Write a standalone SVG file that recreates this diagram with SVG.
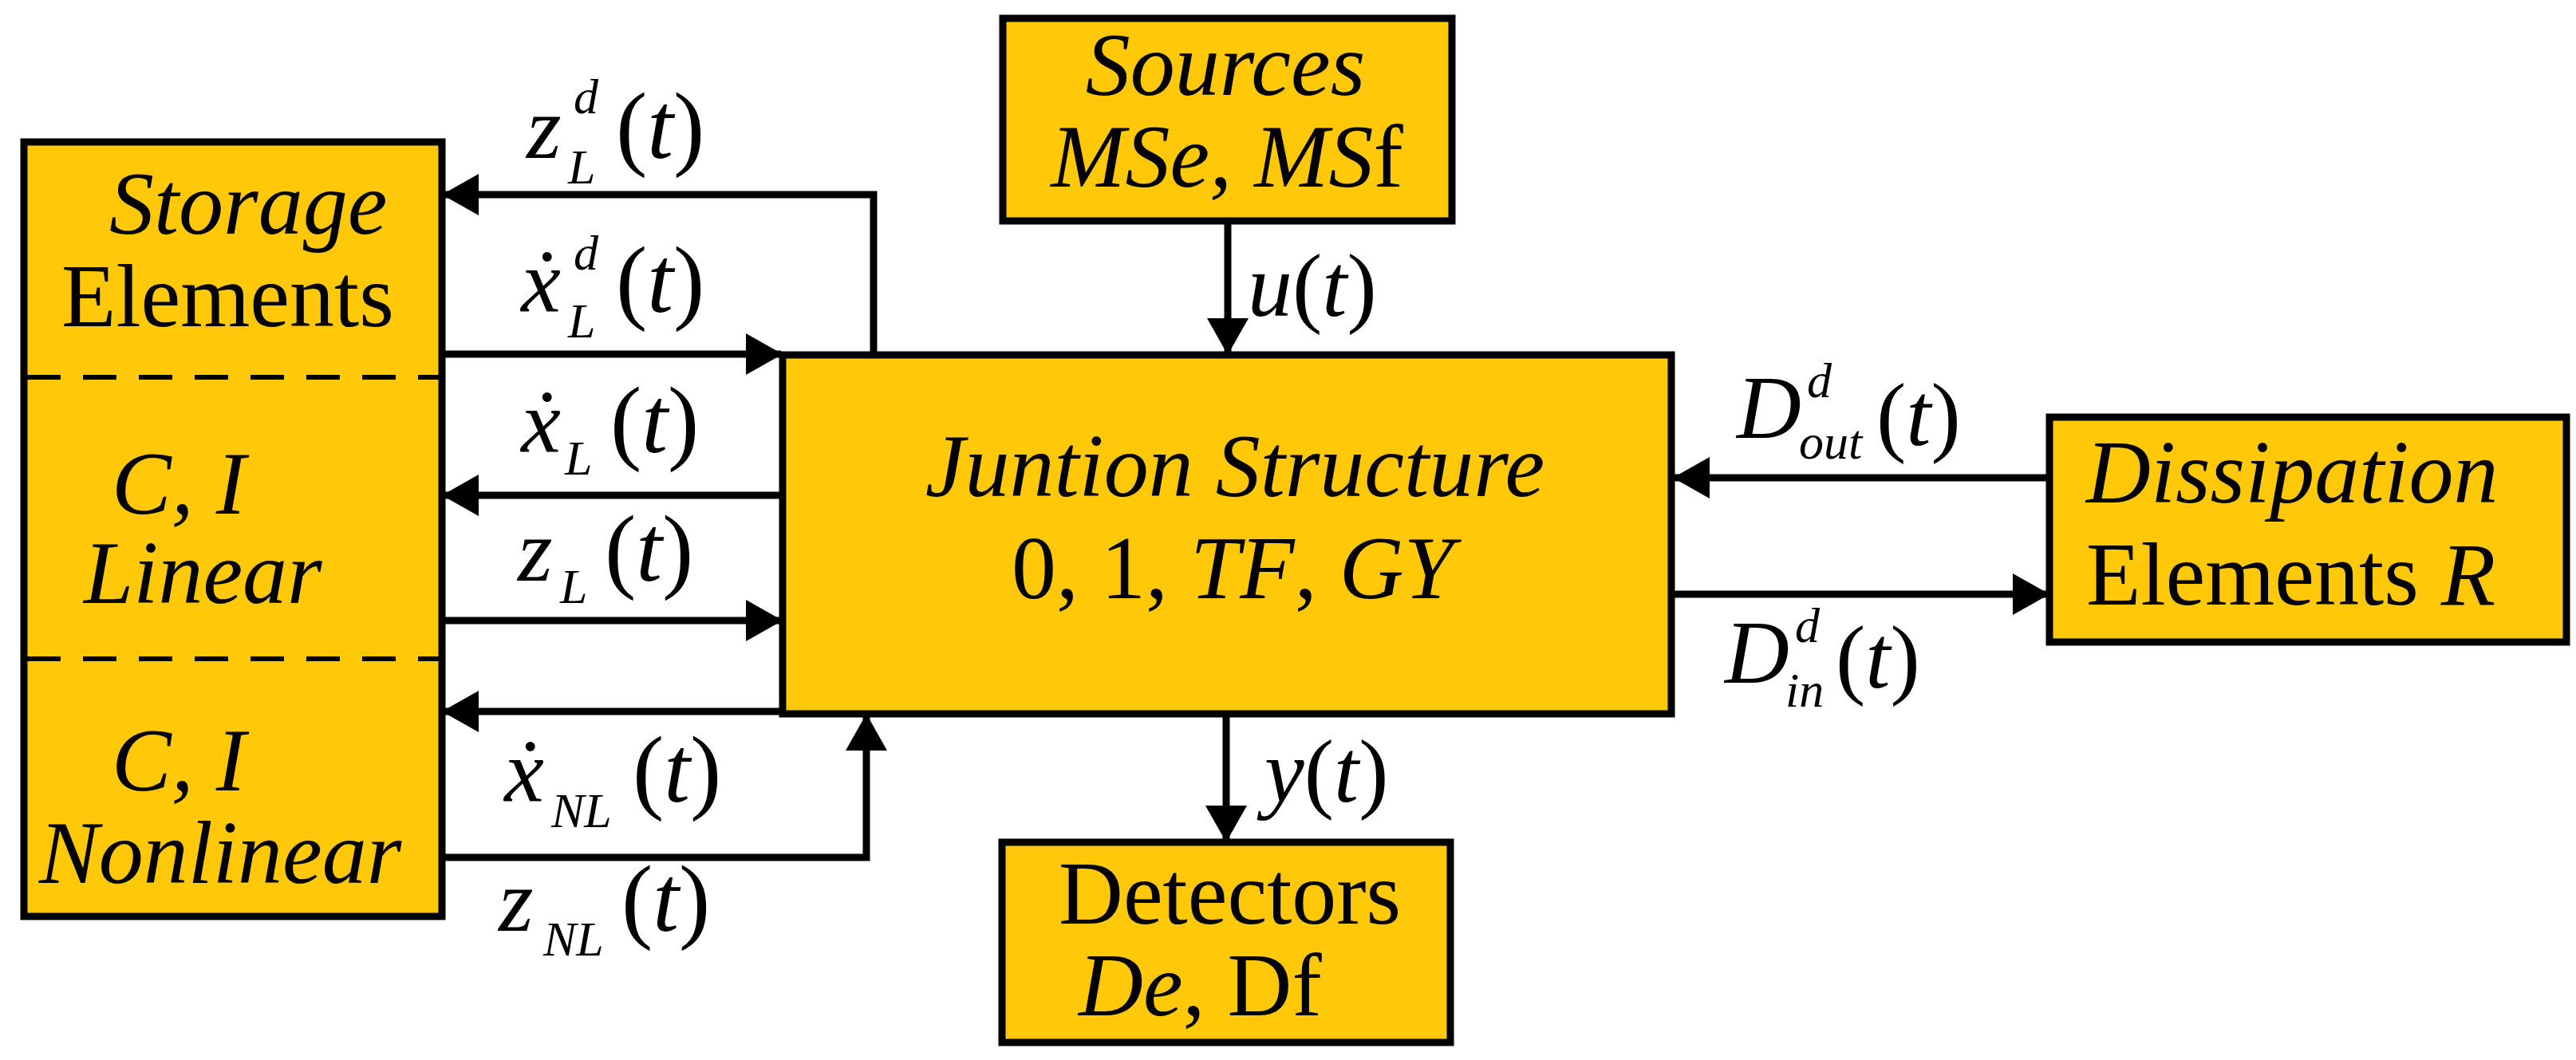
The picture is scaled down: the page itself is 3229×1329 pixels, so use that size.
<svg xmlns="http://www.w3.org/2000/svg" width="3229" height="1329" viewBox="0 0 3229 1329">
<style>
.box{fill:#FFC90A;stroke:#000;stroke-width:9}
.t{font-family:"Liberation Serif","DejaVu Serif",serif;fill:#000;font-size:112px}
.i{font-style:italic}
.c{text-anchor:middle}
.s{font-size:62px;font-style:italic}
.p{font-size:118px}
.w{fill:none;stroke:#000;stroke-width:9}
</style>
<defs>
<marker id="a" markerUnits="userSpaceOnUse" markerWidth="46" markerHeight="52" refX="44" refY="26" orient="auto"><path d="M0,0 L46,26 L0,52 Z" fill="#000"/></marker>
</defs>
<rect width="3229" height="1329" fill="#fff"/>
<g id="storage">
<rect class="box" x="30" y="178" width="524" height="971"/>
<line x1="34" y1="473" x2="550" y2="473" stroke="#000" stroke-width="6" stroke-dasharray="42,28"/>
<line x1="34" y1="826" x2="550" y2="826" stroke="#000" stroke-width="6" stroke-dasharray="42,28"/>
<text class="t i" x="137" y="293">Storage</text>
<text class="t" x="77" y="409">Elements</text>
<text class="t i" x="140" y="644">C,  I</text>
<text class="t i" x="105" y="756">Linear</text>
<text class="t i" x="140" y="991">C,  I</text>
<text class="t i" x="49" y="1107">Nonlinear</text>
</g>
<g id="sources">
<rect class="box" x="1257" y="23" width="563" height="254"/>
<text class="t i c" x="1536" y="119">Sources</text>
<text class="t i c" x="1538" y="234">MSe, MS<tspan font-style="normal">f</tspan></text>
</g>
<g id="junction">
<rect class="box" x="981" y="445" width="1114" height="450"/>
<text class="t i c" x="1548" y="622">Juntion Structure</text>
<text class="t c" x="1545" y="750">0, 1, <tspan class="i">TF</tspan>, <tspan class="i">GY</tspan></text>
</g>
<g id="dissipation">
<rect class="box" x="2569" y="523" width="648" height="282"/>
<text class="t i" x="2615" y="630">Dissipation</text>
<text class="t" x="2615" y="758">Elements  <tspan class="i">R</tspan></text>
</g>
<g id="detectors">
<rect class="box" x="1256" y="1056" width="562" height="251"/>
<text class="t" x="1327" y="1158">Detectors</text>
<text class="t" x="1352" y="1273"><tspan class="i">De</tspan>, Df</text>
</g>
<g id="connectors">
<path class="w" d="M1095,441 V244 H556" marker-end="url(#a)"/>
<path class="w" d="M554,444 H979" marker-end="url(#a)"/>
<path class="w" d="M979,621 H556" marker-end="url(#a)"/>
<path class="w" d="M554,778 H979" marker-end="url(#a)"/>
<path class="w" d="M979,892 H556" marker-end="url(#a)"/>
<path class="w" d="M554,1075 H1086 V897" marker-end="url(#a)"/>
<path class="w" d="M1539,277 V443" marker-end="url(#a)"/>
<path class="w" d="M1537,895 V1054" marker-end="url(#a)"/>
<path class="w" d="M2569,599 H2099" marker-end="url(#a)"/>
<path class="w" d="M2097,745 H2567" marker-end="url(#a)"/>
</g>
<g id="labels">
<text class="t i" x="660" y="198">z</text><text class="t s" x="719" y="142">d</text><text class="t s" x="712" y="230">L</text><text class="t p" x="772" y="198">(<tspan class="i">t</tspan>)</text>
<text class="t i" x="653" y="391">ẋ</text><text class="t s" x="719" y="338">d</text><text class="t s" x="712" y="423">L</text><text class="t p" x="772" y="391">(<tspan class="i">t</tspan>)</text>
<text class="t i" x="653" y="567">ẋ</text><text class="t s" x="708" y="595">L</text><text class="t p" x="765" y="567">(<tspan class="i">t</tspan>)</text>
<text class="t i" x="649" y="728">z</text><text class="t s" x="702" y="756">L</text><text class="t p" x="758" y="728">(<tspan class="i">t</tspan>)</text>
<text class="t i" x="632" y="1005">ẋ</text><text class="t s" x="691" y="1037">NL</text><text class="t p" x="793" y="1005">(<tspan class="i">t</tspan>)</text>
<text class="t i" x="625" y="1167">z</text><text class="t s" x="681" y="1198">NL</text><text class="t p" x="779" y="1167">(<tspan class="i">t</tspan>)</text>
<text class="t" x="1564" y="396"><tspan class="i">u</tspan>(<tspan class="i">t</tspan>)</text>
<text class="t" x="1585" y="1005"><tspan class="i">y</tspan>(<tspan class="i">t</tspan>)</text>
<text class="t i" x="2177" y="549">D</text><text class="t s" x="2265" y="498">d</text><text class="t s" x="2255" y="575">out</text><text class="t" x="2352" y="558">(<tspan class="i">t</tspan>)</text>
<text class="t i" x="2162" y="856">D</text><text class="t s" x="2250" y="805">d</text><text class="t s" x="2238" y="886">in</text><text class="t" x="2301" y="862">(<tspan class="i">t</tspan>)</text>
</g>
</svg>
